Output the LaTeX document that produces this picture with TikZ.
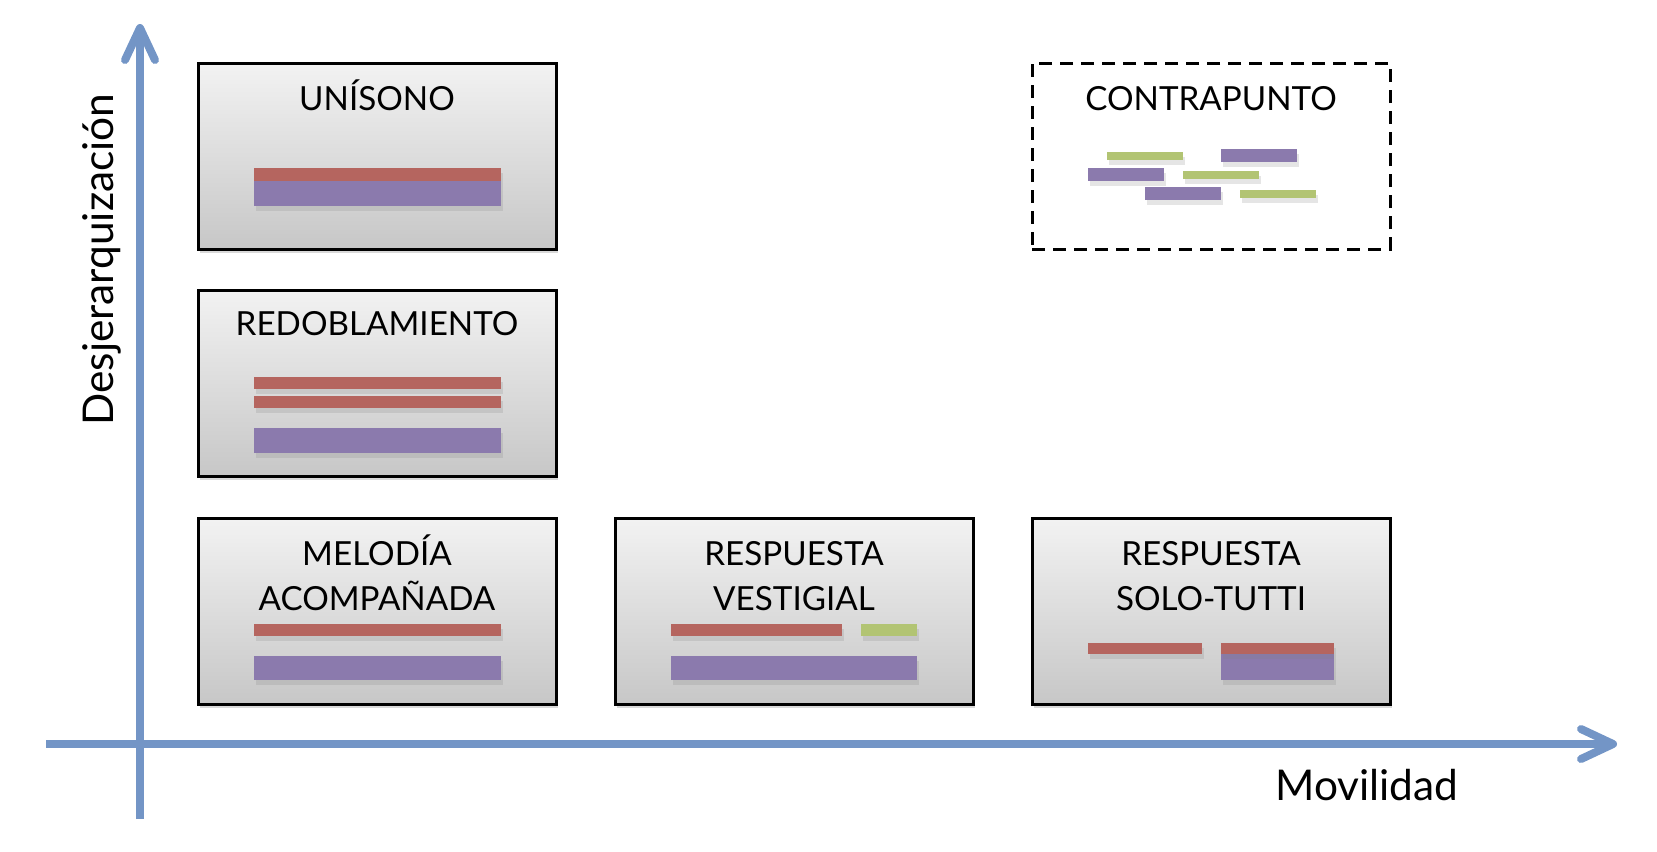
\documentclass[tikz,border=0pt]{standalone}
\usepackage{fontspec}
\setmainfont{Lato}
\usetikzlibrary{positioning, calc, arrows.meta, shadows}
\definecolor{axisBlue}{RGB}{115,149,198}
\definecolor{voiceRed}{RGB}{181,101,95}
\definecolor{voicePurple}{RGB}{139,122,173}
\definecolor{voiceGreen}{RGB}{178,196,115}
\tikzset{
    texbox/.style={
        draw,
        line width=1.5pt,
        top color=black!5,
        bottom color=black!22,
        minimum width=179pt,
        minimum height=93pt,
        inner sep=0pt,
        drop shadow={shadow xshift=1pt, shadow yshift=-2pt, opacity=0.3}
    },
    openbox/.style={
        draw,
        line width=1.5pt,
        dash pattern=on 6.5pt off 4pt,
        fill=white,
        minimum width=179pt,
        minimum height=93pt,
        inner sep=0pt
    },
    title/.style={
        anchor=base,
        align=center,
        inner sep=0pt,
        font=\fontsize{16.6}{22.5}\selectfont
    },
    axis/.style={
        axisBlue,
        line width=4pt,
        -{Straight Barb[length=16pt, width=15pt, round]}
    },
    axislabel/.style={
        inner sep=0pt,
        font=\fontsize{21.2}{24}\selectfont
    },
    voice/.style={
        drop shadow={shadow xshift=0.8pt, shadow yshift=-2.5pt, opacity=0.2}
    }
}

\begin{document}
\begin{tikzpicture}[x=0.5pt, y=-0.5pt]
    \useasboundingbox (0,0) rectangle (1657,851);

    % 1. Ejes
    \coordinate (yfoot) at (140,819);
    \coordinate (ytip) at (140,24);
    \coordinate (xfoot) at (46,744);
    \coordinate (xtip) at (1617,744);
    \draw[axis] (yfoot) -- (ytip);
    \draw[axis] (xfoot) -- (xtip);
    \node[axislabel, anchor=base west] (movil) at (1275,800) {Movilidad};
    \node[axislabel, rotate=90, anchor=base west] (desjer) at (113,426) {Desjerarquización};

    % 2. Cajas de texturas
    \node[texbox] (unison) at (377,156) {};
    \node[texbox] (redobl) at (377,383) {};
    \node[texbox] (melodia) at (377,611) {};
    \node[texbox] (vestig) at (794,611) {};
    \node[texbox] (solotutti) at (1211,611) {};
    \node[openbox] (contra) at (1211,156) {};

    % (base = ultima linea del titulo)
    \node[title] (unisonT) at ($(unison.north)+(0,49)$) {UNÍSONO};
    \node[title] (redoblT) at ($(redobl.north)+(0,47)$) {REDOBLAMIENTO};
    \node[title] (melodiaT) at ($(melodia.north)+(0,94)$) {MELODÍA\\ACOMPAÑADA};
    \node[title] (vestigT) at ($(vestig.north)+(0,94)$) {RESPUESTA\\VESTIGIAL};
    \node[title] (solotuttiT) at ($(solotutti.north)+(0,94)$) {RESPUESTA\\SOLO-TUTTI};
    \node[title] (contraT) at ($(contra.north)+(0,49)$) {CONTRAPUNTO};

    % 3. Voces (barras)
    \foreach \xa/\ya/\xb/\yb/\col in {
        254/168/501/181/voiceRed, 254/181/501/206/voicePurple,
        254/377/501/389/voiceRed, 254/396/501/408/voiceRed, 254/428/501/453/voicePurple,
        254/624/501/636/voiceRed, 254/656/501/680/voicePurple,
        671/624/842/636/voiceRed, 861/624/917/636/voiceGreen, 671/656/917/680/voicePurple,
        1088/643/1202/654/voiceRed, 1221/654/1334/680/voicePurple, 1221/643/1334/654/voiceRed,
        1107/152/1183/160/voiceGreen, 1221/149/1297/162/voicePurple,
        1088/168/1164/181/voicePurple, 1183/171/1259/179/voiceGreen,
        1145/187/1221/200/voicePurple, 1240/190/1316/198/voiceGreen}
        \fill[voice, fill=\col] (\xa,\ya) rectangle (\xb,\yb);
\end{tikzpicture}
\end{document}
